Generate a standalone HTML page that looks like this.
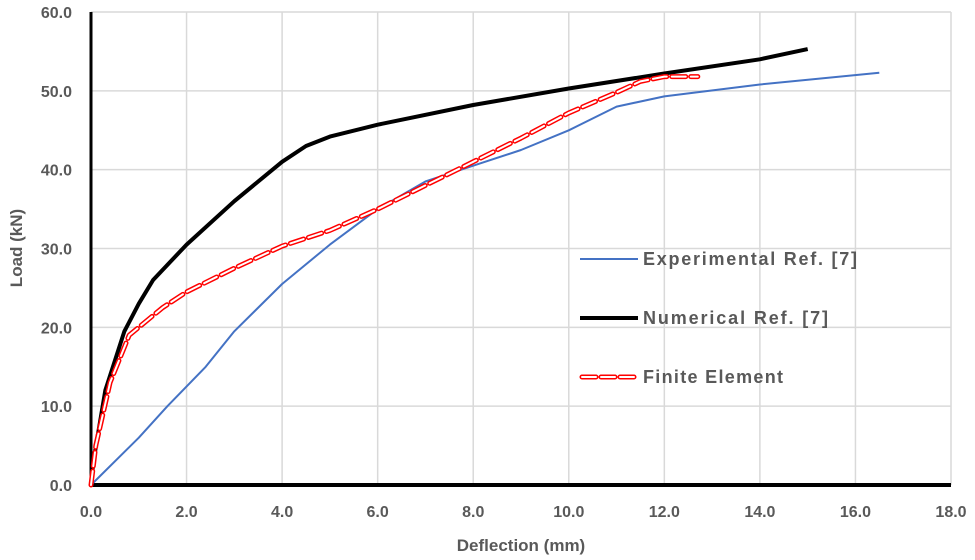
<!DOCTYPE html>
<html><head><meta charset="utf-8"><style>
body{margin:0;background:#fff;}
svg{display:block;font-family:"Liberation Sans",sans-serif;}
.tick{font-size:16px;font-weight:bold;fill:#595959;}
.leg{font-size:18px;font-weight:bold;fill:#595959;}
</style></head><body>
<svg id="c" width="975" height="560"></svg>
<script>
const xTicks=[0,2,4,6,8,10,12,14,16,18];
const yTicks=[0,10,20,30,40,50,60];
const expX=[0,1,1.6,2.4,3,4,5,6,7,8,9,10,11,12,14,16.5];
const expY=[0,6,10,15,19.5,25.5,30.5,35,38.5,40.5,42.5,45,48,49.3,50.8,52.3];
const numX=[0,0.05,0.3,0.7,1,1.3,2,3,4,4.5,5,6,8,10,12,14,15];
const numY=[0,3,12,19.5,23,26,30.5,36,41,43,44.2,45.7,48.2,50.3,52.2,54,55.3];
const feX=[0,0.1,0.4,0.8,1.5,2,3,4,5,6,7,8,9,10,11,11.5,12,12.7];
const feY=[0,5,13,19,22.5,24.5,27.5,30.3,32.3,35,38,41,44,47.2,49.8,51.2,51.8,51.8];
const NS='http://www.w3.org/2000/svg',svg=document.getElementById('c');
const X=v=>91+v*(860/18), Y=v=>485-v*(473/60);
function mk(t,a,p){const e=document.createElementNS(NS,t);for(const k in a)e.setAttribute(k,a[k]);(p||svg).appendChild(e);return e;}
xTicks.forEach(t=>{if(t>0){const l=mk('line',{x1:X(t),x2:X(t),y1:Y(0),y2:Y(60),stroke:'#d9d9d9','stroke-width':1.5});

}
const tx=mk('text',{x:X(t),y:517,'text-anchor':'middle',class:'tick'});tx.textContent=t.toFixed(1);

});
yTicks.forEach(t=>{if(t>0){const l=mk('line',{x1:X(0),x2:X(18),y1:Y(t),y2:Y(t),stroke:'#d9d9d9','stroke-width':1.5});

}
const tx=mk('text',{x:72,y:Y(t)+6,'text-anchor':'end',class:'tick'});tx.textContent=t.toFixed(1);

});
const ax1=mk('line',{x1:X(0),x2:X(18),y1:Y(0),y2:Y(0),stroke:'#000','stroke-width':4});


const ax2=mk('line',{x1:X(0),x2:X(0),y1:Y(0)+2,y2:Y(60),stroke:'#000','stroke-width':3});


const pts=(xs,ys)=>xs.map((x,i)=>X(x).toFixed(1)+','+Y(ys[i]).toFixed(1)).join(' ');
const e=mk('polyline',{points:pts(expX,expY),fill:'none',stroke:'#4472c4','stroke-width':2,'stroke-linejoin':'round'});


const n=mk('polyline',{points:pts(numX,numY),fill:'none',stroke:'#000','stroke-width':4,'stroke-linejoin':'round'});


const g=mk('g',{});


mk('polyline',{points:pts(feX,feY),fill:'none',stroke:'#ff0000','stroke-width':5,'stroke-dasharray':'14 5','stroke-linecap':'round','stroke-linejoin':'round'},g);
mk('polyline',{points:pts(feX,feY),fill:'none',stroke:'#fff','stroke-width':2,'stroke-dasharray':'14 5','stroke-linecap':'round','stroke-linejoin':'round'},g);
</script>
<div style="position:absolute;left:0;top:0;width:975px;height:560px;pointer-events:none">
<svg width="975" height="560" style="font-family:'Liberation Sans',sans-serif">
<g>
<g><line x1="580" y1="259" x2="638" y2="259" stroke="#4472c4" stroke-width="2"/><text x="643" y="265" class="leg" textLength="214">Experimental Ref. [7]</text></g>
<g><line x1="580" y1="318" x2="638" y2="318" stroke="#000" stroke-width="4"/><text x="643" y="324" class="leg" textLength="185">Numerical Ref. [7]</text></g>
<g><line x1="582" y1="377" x2="636" y2="377" stroke="#f00" stroke-width="5" stroke-dasharray="14 5" stroke-linecap="round"/><line x1="582" y1="377" x2="636" y2="377" stroke="#fff" stroke-width="2" stroke-dasharray="14 5" stroke-linecap="round"/><text x="643" y="383" class="leg" textLength="140">Finite Element</text></g>
</g>
<text x="521" y="551" text-anchor="middle" font-size="17" font-weight="bold" fill="#595959">Deflection (mm)</text>
<text transform="translate(22,248) rotate(-90)" text-anchor="middle" font-size="17" font-weight="bold" fill="#595959">Load (kN)</text>
</svg></div>
</body></html>
